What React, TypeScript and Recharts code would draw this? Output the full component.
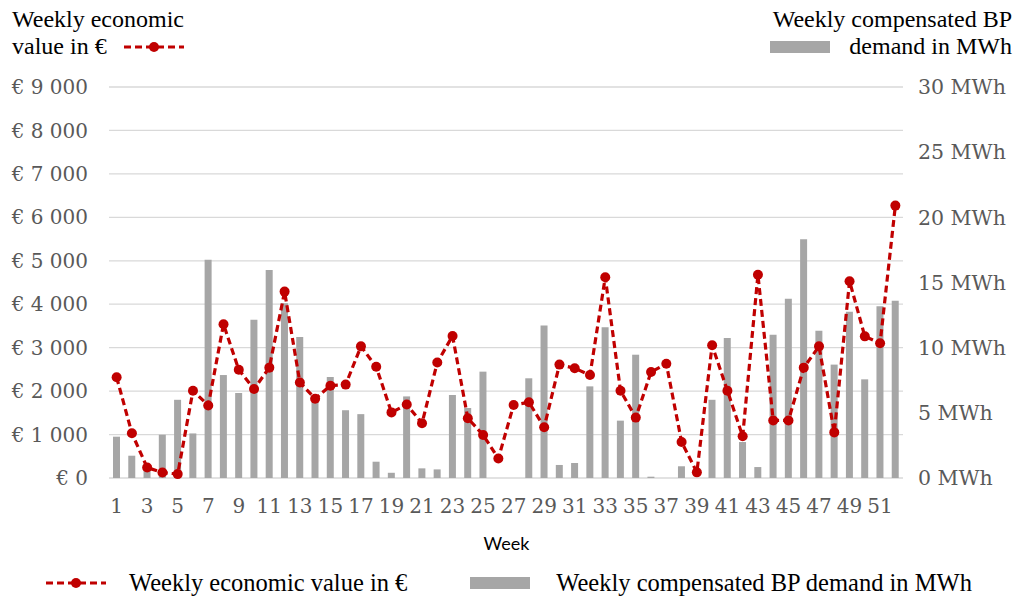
import { Bar, CartesianGrid, ComposedChart, Line, XAxis, YAxis } from "recharts";

const weeks = [
  1, 2, 3, 4, 5, 6, 7, 8, 9, 10, 11, 12, 13, 14, 15, 16, 17, 18, 19, 20, 21, 22, 23, 24, 25, 26,
  27, 28, 29, 30, 31, 32, 33, 34, 35, 36, 37, 38, 39, 40, 41, 42, 43, 44, 45, 46, 47, 48, 49, 50, 51, 52,
];

// weekly economic value, €
const economicValue = [
  2320, 1030, 240, 125, 90, 2010, 1670, 3540, 2490, 2050, 2540, 4290, 2200, 1825, 2125, 2150, 3030,
  2560, 1510, 1690, 1260, 2660, 3270, 1375, 990, 450, 1680, 1745, 1170, 2610, 2525, 2370, 4620, 2010,
  1390, 2440, 2630, 830, 130, 3055, 2010, 960, 4680, 1325, 1325, 2540, 3030, 1050, 4530, 3260, 3100,
  6270,
];

// weekly compensated BP demand, MWh
const demandMWh = [
  3.17, 1.71, 0.9, 3.32, 6.0, 3.42, 16.75, 7.9, 6.52, 12.15, 15.96, 13.4, 10.82, 6.0, 7.75, 5.2, 4.9,
  1.25, 0.4, 6.26, 0.74, 0.66, 6.37, 5.37, 8.16, 0, 0, 7.65, 11.7, 1.0, 1.15, 7.03, 11.56, 4.4, 9.46,
  0.1, 0, 0.9, 0, 6.0, 10.74, 2.76, 0.84, 11.0, 13.76, 18.31, 11.3, 8.7, 12.76, 7.57, 13.17, 13.6,
];

const euroTicks = [0, 1000, 2000, 3000, 4000, 5000, 6000, 7000, 8000, 9000];
const mwhTicks = [0, 5, 10, 15, 20, 25, 30];

const data = weeks.map((week, i) => ({ week, value: economicValue[i], demand: demandMWh[i] }));

const RED = "#c00000";
const GREY = "#a6a6a6";
const serif = "'Liberation Serif', 'Times New Roman', serif";
const tickFont = "'DejaVu Serif', serif";

const euro = (v: number) => (v === 0 ? "€ 0" : `€ ${Math.floor(v / 1000)} ${String(v % 1000).padStart(3, "0")}`);

function LineIcon() {
  return (
    <svg width={62} height={14} style={{ display: "block" }}>
      <line x1={1} y1={7} x2={61} y2={7} stroke={RED} strokeWidth={3} strokeDasharray="7 4" />
      <circle cx={31} cy={7} r={5} fill={RED} />
    </svg>
  );
}

export default function App() {
  return (
    <div style={{ position: "absolute", left: 0, top: 0, width: 1016, height: 601, fontFamily: serif, background: "#fff" }}>
      <ComposedChart width={1016} height={601} data={data} margin={{ top: 87, right: 0, bottom: 93, left: 0 }}>
        <CartesianGrid yAxisId="left" vertical={false} stroke="#d9d9d9" strokeWidth={1.3} />
        <XAxis
          dataKey="week"
          interval={1}
          axisLine={false}
          tickLine={false}
          tickSize={0}
          tickMargin={21}
          height={30}
          tick={{ fontSize: 20, fill: "#595959", fontFamily: tickFont }}
        />
        <YAxis
          yAxisId="left"
          domain={[0, 9000]}
          ticks={euroTicks}
          tickFormatter={euro}
          axisLine={false}
          tickLine={false}
          tickSize={0}
          tickMargin={21}
          width={109}
          tick={{ fontSize: 20, fill: "#595959", fontFamily: tickFont }}
        />
        <YAxis
          yAxisId="right"
          orientation="right"
          domain={[0, 30]}
          ticks={mwhTicks}
          tickFormatter={(v: number) => `${v} MWh`}
          axisLine={false}
          tickLine={false}
          tickSize={0}
          tickMargin={15}
          width={113}
          tick={{ fontSize: 20.5, fill: "#595959", fontFamily: tickFont, textAnchor: "start" }}
        />
        <Bar yAxisId="right" dataKey="demand" fill={GREY} barSize={7} isAnimationActive={false} />
        <Line
          yAxisId="left"
          type="linear"
          dataKey="value"
          stroke={RED}
          strokeWidth={3.2}
          strokeDasharray="7 4"
          dot={{ r: 5, fill: RED, stroke: RED, strokeWidth: 0 }}
          isAnimationActive={false}
        />
      </ComposedChart>

      {/* top-left series title */}
      <div style={{ position: "absolute", left: 12, top: 6, fontSize: 24, lineHeight: "27px", color: "#000" }}>
        <div>Weekly economic</div>
        <div style={{ display: "flex", alignItems: "center" }}>
          <span>value in €</span>
          <span style={{ marginLeft: 16 }}>
            <LineIcon />
          </span>
        </div>
      </div>

      {/* top-right series title */}
      <div style={{ position: "absolute", right: 4, top: 6, fontSize: 24, lineHeight: "27px", color: "#000", textAlign: "right" }}>
        <div>Weekly compensated BP</div>
        <div style={{ display: "flex", alignItems: "center", justifyContent: "flex-end" }}>
          <span style={{ display: "inline-block", width: 60, height: 12, background: GREY, marginRight: 19 }} />
          <span>demand in MWh</span>
        </div>
      </div>

      <div style={{ position: "absolute", left: 0, width: 1013, top: 532, textAlign: "center", fontFamily: "Lato, sans-serif", fontSize: 18, color: "#000" }}>
        Week
      </div>

      {/* bottom legend */}
      <div style={{ position: "absolute", left: 45, top: 569, display: "flex", alignItems: "center", fontSize: 24.5, color: "#000" }}>
        <LineIcon />
        <span style={{ marginLeft: 22 }}>Weekly economic value in €</span>
        <span style={{ display: "inline-block", width: 60, height: 12, background: GREY, marginLeft: 63 }} />
        <span style={{ marginLeft: 26 }}>Weekly compensated BP demand in MWh</span>
      </div>
    </div>
  );
}
